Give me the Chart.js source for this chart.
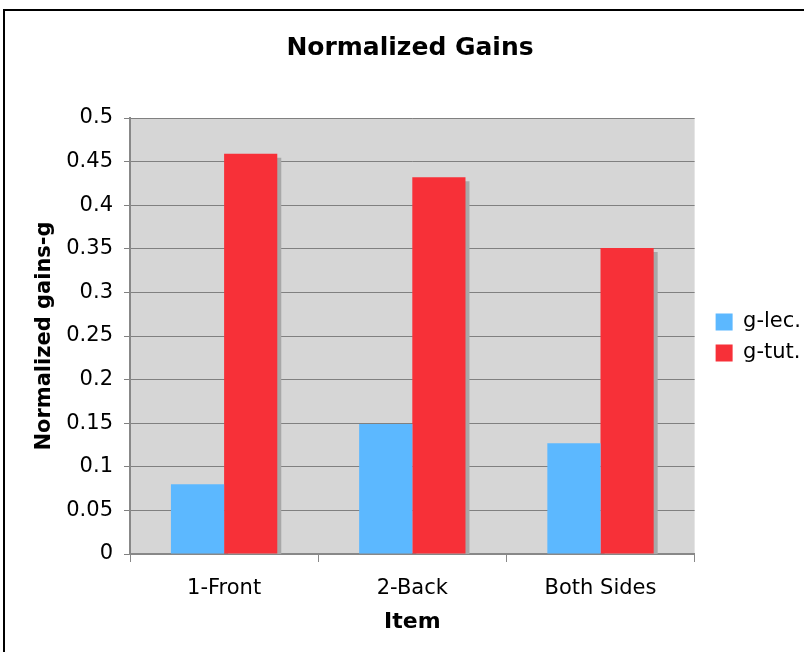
<!DOCTYPE html>
<html>
<head>
<meta charset="utf-8">
<script src="https://cdn.jsdelivr.net/npm/chart.js@4"></script>
<style>
  body { margin: 0; background: #fff; }
  #wrap { position: relative; width: 804px; height: 652px; overflow: hidden; }
  #frame { position: absolute; left: 3px; top: 9px; width: 900px; height: 900px; border: 2px solid #000; }
  canvas { position: absolute; left: 0; top: 0; }
</style>
</head>
<body>
<div id="wrap">
  <div id="frame"></div>
  <canvas id="myChart" width="804" height="652"></canvas>
</div>
<script>
var categorias = ['1-Front', '2-Back', 'Both Sides'];
var gLec = [0.080, 0.149, 0.127];
var gTut = [0.459, 0.432, 0.351];
var yMin = 0, yMax = 0.5, yPaso = 0.05;

// fondo gris del area de trazado, sombra de las barras rojas y leyenda centrada en el area
var fondoPlot = {
  id: 'fondoPlot',
  afterLayout: function(chart) {
    var lg = chart.legend;
    lg.left += 11; lg.right += 11;
    lg.top += 20; lg.bottom += 20;
  },
  beforeDraw: function(chart) {
    var a = chart.chartArea, ctx = chart.ctx;
    ctx.save();
    ctx.fillStyle = '#d6d6d6';
    ctx.fillRect(a.left, a.top, a.right - a.left, a.bottom - a.top);
    ctx.restore();
  },
  beforeDatasetDraw: function(chart, args) {
    var ctx = chart.ctx;
    ctx.save();
    if (args.index === 1) {
      ctx.shadowColor = '#a8a8a8';
      ctx.shadowOffsetX = 4;
      ctx.shadowOffsetY = 4;
      ctx.shadowBlur = 0;
    }
  },
  afterDatasetDraw: function(chart) {
    chart.ctx.restore();
  }
};

var ctx = document.getElementById('myChart').getContext('2d');
var myChart = new Chart(ctx, {
  type: 'bar',
  data: {
    labels: categorias,
    datasets: [{
      label: 'g-lec.',
      data: gLec,
      backgroundColor: '#5cb8ff',
      borderWidth: 0
    }, {
      label: 'g-tut.',
      data: gTut,
      backgroundColor: '#f73038',
      borderWidth: 0
    }]
  },
  options: {
    responsive: false,
    animation: false,
    categoryPercentage: 0.565,
    barPercentage: 1,
    layout: { padding: { left: 20, right: 4, top: 0, bottom: 17 } },
    plugins: {
      title: {
        display: true,
        text: 'Normalized Gains',
        color: '#000',
        font: { family: 'DejaVu Sans', size: 25, weight: 'bold' },
        padding: { top: 33, bottom: 55 }
      },
      legend: {
        position: 'right',
        labels: {
          boxWidth: 17,
          boxHeight: 17,
          padding: 10,
          color: '#000',
          font: { family: 'DejaVu Sans', size: 21 }
        }
      },
      tooltip: { enabled: false }
    },
    scales: {
      x: {
        afterFit: function(s) { s.height = 81; },
        grid: { offset: true, drawOnChartArea: false, tickLength: 8, color: '#888', lineWidth: 1 },
        border: { color: '#888', width: 2 },
        ticks: { color: '#000', font: { family: 'DejaVu Sans', size: 21 }, padding: 14 },
        title: {
          display: true, text: 'Item', color: '#000',
          font: { family: 'DejaVu Sans', size: 22, weight: 'bold' },
          padding: { top: 0, bottom: 0 }
        }
      },
      y: {
        min: yMin,
        max: yMax,
        afterFit: function(s) { s.width = 110; },
        ticks: {
          stepSize: yPaso,
          color: '#000',
          font: { family: 'DejaVu Sans', size: 21 },
          padding: 11,
          callback: function(v) { return +v.toFixed(2); }
        },
        grid: { color: '#808080', lineWidth: 1, tickLength: 6 },
        border: { color: '#888', width: 2 },
        title: {
          display: true, text: 'Normalized gains-g', color: '#000',
          font: { family: 'DejaVu Sans', size: 21, weight: 'bold' },
          padding: { top: 12, bottom: 0 }
        }
      }
    }
  },
  plugins: [fondoPlot]
});
</script>
</body>
</html>
